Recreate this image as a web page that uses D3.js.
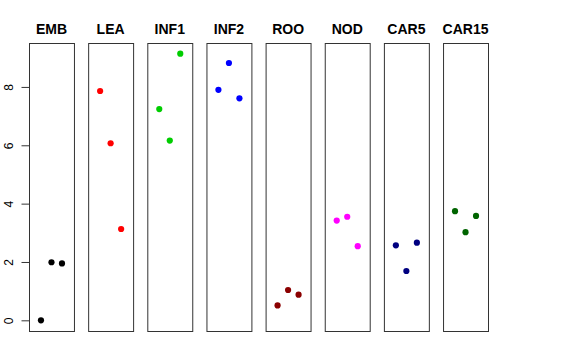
<!DOCTYPE html>
<html>
<head>
<meta charset="utf-8">
<script src="https://cdn.jsdelivr.net/npm/d3@7"></script>
<style>
  body { margin: 0; background: #fff; }
  svg { font-family: "Liberation Sans", Arial, sans-serif; }
</style>
</head>
<body>
<div class="chart"></div>
<script>
// one panel per tissue, three replicates in each
var tissues = ["EMB", "LEA", "INF1", "INF2", "ROO", "NOD", "CAR5", "CAR15"];
var rep1 = [0.00, 7.86, 7.24, 7.90, 0.51, 3.42, 2.57, 3.74];
var rep2 = [1.99, 6.07, 6.16, 8.82, 1.04, 3.55, 1.69, 3.02];
var rep3 = [1.95, 3.13, 9.14, 7.61, 0.88, 2.54, 2.66, 3.58];
var colors = ["#000000", "#ff0000", "#00cd00", "#0000ff", "#8b0000", "#ff00ff", "#000080", "#006400"];
var yTicks = [0, 2, 4, 6, 8];

var width = 576, height = 360;
var plotTop = 43, plotBottom = 331;

var points = [];
tissues.forEach(function(t, i) {
  [rep1, rep2, rep3].forEach(function(rep, j) {
    points.push({tissue: t, rep: j + 1, value: rep[i], color: colors[i]});
  });
});

var panelScale = d3.scaleBand()
  .domain(tissues)
  .range([29, 488])
  .paddingInner(0.24)
  .paddingOuter(0);

var xScale = d3.scaleLinear()
  .domain([-0.14, 4.14])
  .range([0, panelScale.bandwidth()]);

var yScale = d3.scaleLinear()
  .domain([-0.366, 9.506])
  .range([plotBottom, plotTop]);

var svg = d3.select('.chart')
  .append("svg")
  .attr("width", width)
  .attr("height", height);

var panels = svg.selectAll(".panel")
  .data(tissues)
  .enter()
  .append("g")
  .attr("class", "panel")
  .attr("transform", function(d) { return "translate(" + panelScale(d) + ",0)"; });

panels.append("rect")
  .attr("x", 0.5)
  .attr("y", plotTop + 0.5)
  .attr("width", panelScale.bandwidth())
  .attr("height", plotBottom - plotTop)
  .attr("fill", "none")
  .attr("stroke", "#333")
  .attr("stroke-width", 1);

panels.append("text")
  .attr("x", panelScale.bandwidth() / 2)
  .attr("y", 34)
  .attr("text-anchor", "middle")
  .attr("font-weight", "bold")
  .attr("font-size", "14px")
  .text(function(d) { return d; });

svg.selectAll(".dot")
  .data(points)
  .enter()
  .append("circle")
  .attr("class", "dot")
  .attr("cx", function(d) { return panelScale(d.tissue) + xScale(d.rep); })
  .attr("cy", function(d) { return yScale(d.value); })
  .attr("r", 3.1)
  .attr("fill", function(d) { return d.color; });

// y axis on the first panel only
var yAxis = d3.axisLeft(yScale)
  .tickValues(yTicks)
  .tickSize(8)
  .tickPadding(7);

var axisG = svg.append("g")
  .attr("class", "y axis")
  .attr("transform", "translate(29.5,0)")
  .call(yAxis);

axisG.select(".domain").remove();
axisG.selectAll(".tick line").attr("stroke", "#333");
axisG.selectAll(".tick text")
  .attr("font-size", "12px")
  .attr("font-family", "Liberation Sans, Arial, sans-serif")
  .attr("fill", "#000")
  .attr("transform", "rotate(-90)")
  .attr("x", 0)
  .attr("y", -17)
  .attr("dy", 0)
  .attr("text-anchor", "middle");
</script>
</body>
</html>
